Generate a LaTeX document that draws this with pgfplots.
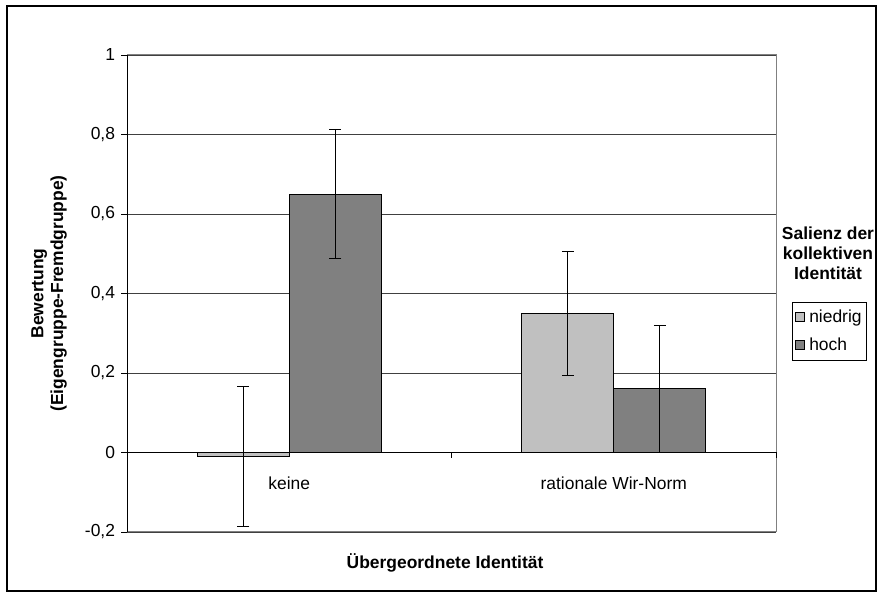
\documentclass[border=0pt]{standalone}
\usepackage{pgfplots}
\pgfplotsset{compat=1.18}
\usepackage{fontspec}
\setmainfont{Liberation Sans}
\definecolor{niedrig}{HTML}{C0C0C0}
\definecolor{hoch}{HTML}{808080}
\begin{document}
\fontsize{17.5}{20}\selectfont
\begin{tikzpicture}[x=1bp,y=1bp]
\useasboundingbox (0,0) rectangle (878,597);
\draw[black, line width=1.2bp] (7,6) rectangle (876,591);
\begin{axis}[
  at={(127bp,65bp)}, anchor=south west,
  scale only axis, width=649bp, height=477bp,
  xmin=-0.5, xmax=1.5, ymin=-0.2, ymax=1,
  ybar=0pt, bar width=92bp,
  xtick={0,1}, xticklabels={keine, rationale Wir-Norm},
  xtick style={draw=none},
  xticklabel style={anchor=base, yshift=48bp},
  ytick={-0.2,0,0.2,0.4,0.6,0.8,1},
  ytick pos=left,
  yticklabel style={/pgf/number format/.cd, use comma, fixed, precision=1},
  /pgf/number format/assume math mode=true,
  tick align=outside, major tick length=6bp,
  ytick style={black, line width=0.8bp},
  ymajorgrids, grid style={black!75, line width=0.9bp},
  axis line style={gray, line width=1bp},
  xlabel={\bfseries Übergeordnete Identität},
  xlabel style={at={(axis description cs:0.49,-0.065)}, anchor=center},
  ylabel={\bfseries Bewertung\\\bfseries(Eigengruppe-Fremdgruppe)},
  ylabel style={at={(axis description cs:-0.12,0.5)}, anchor=center, align=center},
  legend style={at={(axis description cs:1.0247,0.482)}, anchor=north west,
    draw=black, line width=0.8bp, inner xsep=3bp, inner ysep=5bp, row sep=9bp,
    font=\fontsize{17.5}{20}\selectfont},
  legend cell align=left,
  legend image code/.code={\draw[#1, line width=0.8bp] (0bp,-4.5bp) rectangle (9bp,4.5bp); \path (11bp,0bp);},
  clip=false,
]
\addplot[fill=niedrig, draw=black, line width=0.9bp,
  error bars/.cd, y dir=both, y explicit,
  error bar style={black, line width=1.2bp},
  error mark options={rotate=90, mark size=6bp, line width=1.2bp, black}]
  coordinates {(0,-0.01) +- (0,0.176) (1,0.35) +- (0,0.156)};
\addplot[fill=hoch, draw=black, line width=0.9bp,
  error bars/.cd, y dir=both, y explicit,
  error bar style={black, line width=1.2bp},
  error mark options={rotate=90, mark size=6bp, line width=1.2bp, black}]
  coordinates {(0,0.65) +- (0,0.162) (1,0.16) +- (0,0.16)};
\legend{niedrig, hoch}
\draw[black, line width=1bp] (axis cs:-0.5,-0.2) -- (axis cs:-0.5,1);
\draw[black, line width=1bp] (axis cs:-0.5,0) -- (axis cs:1.5,0);
\draw[black, line width=0.8bp] (axis cs:0.5,0) -- ([yshift=-6bp]axis cs:0.5,0);
\draw[black, line width=0.8bp] (axis cs:1.5,0) -- ([yshift=-6bp]axis cs:1.5,0);
\end{axis}
\node[align=center, font=\bfseries, inner sep=0pt] at (828,344) {Salienz der\\kollektiven\\Identität};
\end{tikzpicture}
\end{document}
